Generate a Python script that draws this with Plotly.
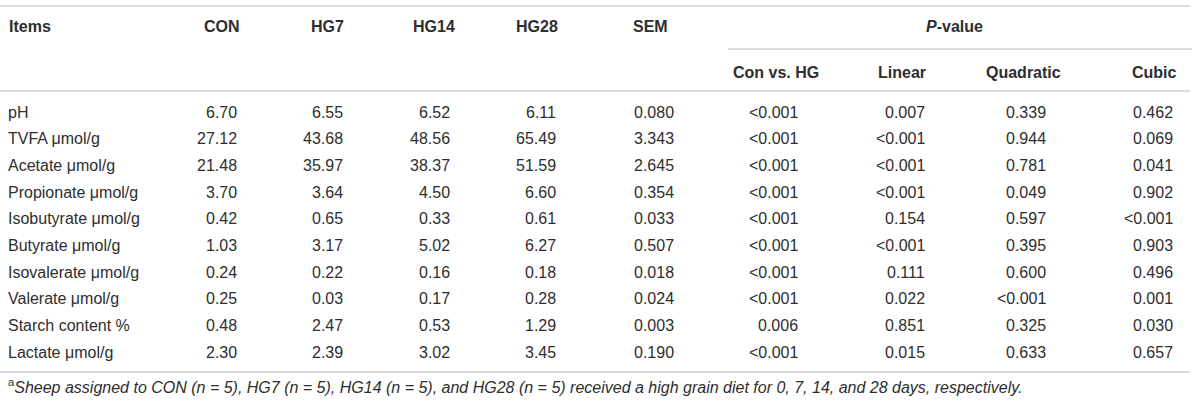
import plotly.graph_objects as go

# table content
items = ['pH', 'TVFA μmol/g', 'Acetate μmol/g', 'Propionate μmol/g', 'Isobutyrate μmol/g',
         'Butyrate μmol/g', 'Isovalerate μmol/g', 'Valerate μmol/g', 'Starch content %',
         'Lactate μmol/g']
con = ['6.70', '27.12', '21.48', '3.70', '0.42', '1.03', '0.24', '0.25', '0.48', '2.30']
hg7 = ['6.55', '43.68', '35.97', '3.64', '0.65', '3.17', '0.22', '0.03', '2.47', '2.39']
hg14 = ['6.52', '48.56', '38.37', '4.50', '0.33', '5.02', '0.16', '0.17', '0.53', '3.02']
hg28 = ['6.11', '65.49', '51.59', '6.60', '0.61', '6.27', '0.18', '0.28', '1.29', '3.45']
sem = ['0.080', '3.343', '2.645', '0.354', '0.033', '0.507', '0.018', '0.024', '0.003', '0.190']
p_con_hg = ['<0.001', '<0.001', '<0.001', '<0.001', '<0.001', '<0.001', '<0.001', '<0.001',
            '0.006', '<0.001']
p_linear = ['0.007', '<0.001', '<0.001', '<0.001', '0.154', '<0.001', '0.111', '0.022',
            '0.851', '0.015']
p_quadratic = ['0.339', '0.944', '0.781', '0.049', '0.597', '0.395', '0.600', '<0.001',
               '0.325', '0.633']
p_cubic = ['0.462', '0.069', '0.041', '0.902', '<0.001', '0.903', '0.496', '0.001',
           '0.030', '0.657']

headers = ['CON', 'HG7', 'HG14', 'HG28', 'SEM']
sub_headers = ['Con vs. HG', 'Linear', 'Quadratic', 'Cubic']
footnote = ('<sup>a</sup><i>Sheep assigned to CON (n = 5), HG7 (n = 5), HG14 (n = 5), and '
            'HG28 (n = 5) received a high grain diet for 0, 7, 14, and 28 days, respectively.</i>')

W, H = 1200, 403
FONT = 'Liberation Sans'
TXT = '#2e2e2e'
LINE = '#cfcfcf'

columns = [con, hg7, hg14, hg28, sem, p_con_hg, p_linear, p_quadratic, p_cubic]
col_right = [239, 345, 452, 558, 676, 800, 927, 1048, 1175]
head_center = [222, 327, 434, 537, 650]
sub_center = [776, 902, 1023, 1154]

row_y0 = 112
row_step = 26.7

fig = go.Figure()
ann = []

ann.append(dict(x=7, y=26, text='<b>Items</b>', xanchor='left'))
for h, cx in zip(headers, head_center):
    ann.append(dict(x=cx, y=26, text='<b>%s</b>' % h, xanchor='center'))
ann.append(dict(x=954, y=26, text='<b><i>P</i>-value</b>', xanchor='center'))
for h, cx in zip(sub_headers, sub_center):
    ann.append(dict(x=cx, y=72, text='<b>%s</b>' % h, xanchor='center'))

for i, name in enumerate(items):
    y = row_y0 + i * row_step
    ann.append(dict(x=6, y=y, text=name, xanchor='left'))
    for col, xr in zip(columns, col_right):
        ann.append(dict(x=xr, y=y, text=col[i].replace('<', '&lt;'), xanchor='right'))

ann.append(dict(x=6, y=386, text=footnote, xanchor='left'))

for a in ann:
    a.update(xref='x', yref='y', showarrow=False, yanchor='middle')
    a['font'] = dict(size=16, family=FONT, color=TXT)

fig.update_layout(annotations=ann)

# rules
rules = [(0, 1190, 6), (728, 1192, 49), (0, 1190, 91), (0, 1190, 372)]
for x0, x1, y in rules:
    fig.add_shape(type='line', x0=x0, x1=x1, y0=y, y1=y, xref='x', yref='y',
                  line=dict(color=LINE, width=1.5))

fig.update_layout(
    width=W, height=H,
    margin=dict(l=0, r=0, t=0, b=0),
    paper_bgcolor='white', plot_bgcolor='white',
    xaxis=dict(range=[0, W], visible=False, fixedrange=True),
    yaxis=dict(range=[H, 0], visible=False, fixedrange=True),
    showlegend=False,
)

# drop the default body margin so the table sits at the window's corner
fig.write_html("out.html", config={'displayModeBar': False},
               post_script="document.body.style.margin='0';")
